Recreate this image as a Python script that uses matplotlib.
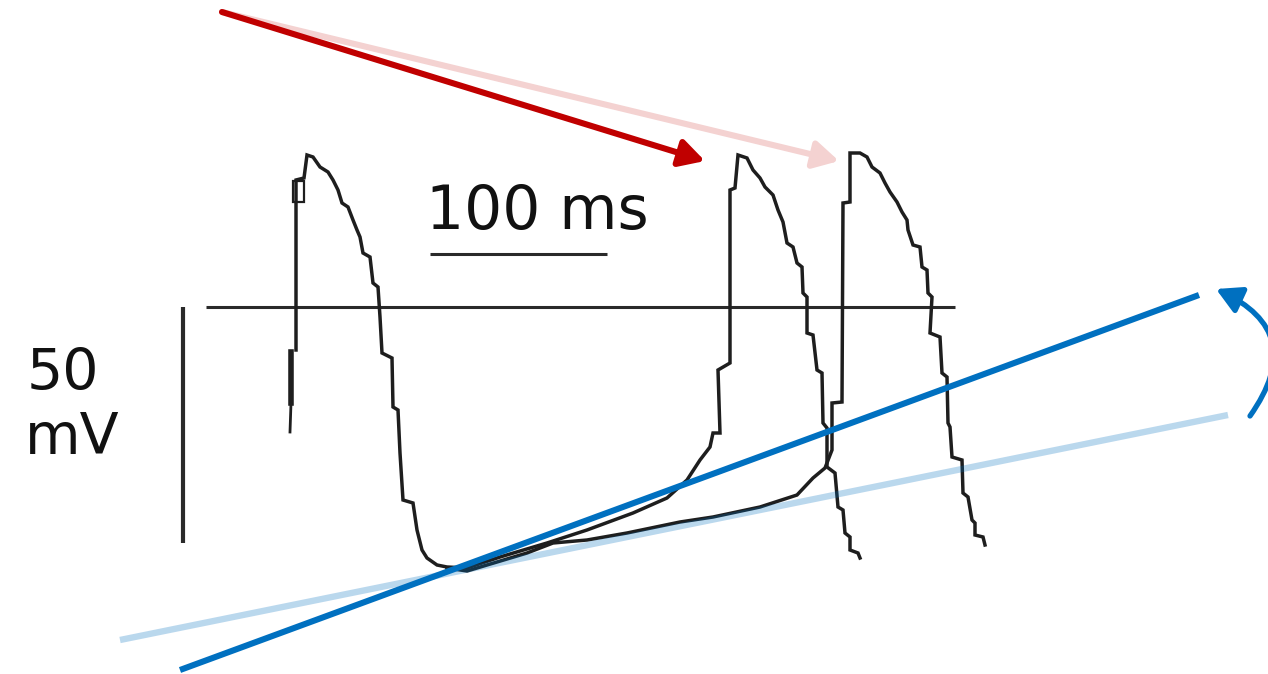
import matplotlib.pyplot as plt
from matplotlib.patches import FancyArrowPatch, Rectangle

# image-pixel coordinates (x right, y down)
# first action potential (upstroke, repolarisation, bottom)
ap1_x = [296, 296, 304, 307, 313, 320, 328, 333, 338, 342, 348, 353, 357, 360, 363, 370,
         373, 378, 380, 382, 392, 393, 398, 400, 403, 413, 417, 422, 427, 437, 447, 467]
ap1_y = [350, 180, 178, 155, 157, 167, 172, 180, 190, 203, 207, 220, 230, 237, 253, 257,
         283, 287, 317, 353, 358, 407, 410, 453, 500, 503, 530, 550, 558, 565, 567, 568]

artifact_x = [290, 291]
artifact_y = [432, 403]

# fast diastolic depolarisation -> second action potential
ap2_x = [467, 500, 547, 587, 633, 667, 687, 700, 710, 713, 720, 718, 730, 730, 735, 738,
         747, 753, 760, 765, 773, 778, 783, 787, 793, 797, 802, 803, 807, 807, 813, 817,
         822, 823, 827, 827, 835, 838, 843, 845, 850, 850, 858, 860]
ap2_y = [568, 557, 543, 530, 513, 498, 480, 460, 447, 433, 433, 370, 363, 190, 188, 155,
         158, 170, 178, 187, 195, 210, 222, 243, 247, 263, 267, 293, 297, 333, 335, 370,
         373, 423, 428, 467, 473, 507, 510, 533, 537, 550, 553, 558]

# slow diastolic depolarisation -> third action potential
ap3_x = [447, 467, 527, 553, 587, 627, 680, 713, 760, 797, 813, 825, 832, 832, 842, 843, 850,
         850, 860, 867, 872, 880, 885, 890, 897, 902, 907, 908, 913, 920, 922, 927, 928,
         932, 930, 940, 942, 947, 948, 950, 952, 962, 963, 968, 972, 975, 975, 983, 985]
ap3_y = [568, 571, 553, 543, 540, 533, 522, 517, 507, 495, 478, 468, 450, 403, 402, 203, 202,
         153, 153, 157, 167, 173, 183, 192, 202, 212, 220, 230, 245, 247, 267, 270, 293,
         297, 333, 337, 373, 377, 423, 427, 457, 460, 493, 497, 520, 523, 535, 537, 545]

zero_x = [206, 955]
zero_y = [307, 307]

vbar_x = [183, 183]
vbar_y = [307, 543]

hbar_x = [430, 607]
hbar_y = [254, 254]

# annotation lines / arrows
red_start, red_end = (222, 12), (705, 161)
pink_start, pink_end = (222, 12), (839, 161)
blue_start, blue_end = (180, 670), (1199, 295)
lblue_start, lblue_end = (120, 640), (1228, 415)
curve_start, curve_end = (1250, 416), (1216, 289)

RED = '#C00000'
PINK = '#F4D2D1'
BLUE = '#0070C0'
INK = '#1e1e1e'

fig = plt.figure(figsize=(12.68, 6.74), dpi=100)
ax = fig.add_axes([0, 0, 1, 1])
ax.set_xlim(0, 1268)
ax.set_ylim(674, 0)
ax.axis('off')

# traces
ax.plot(zero_x, zero_y, color='#2a2a2a', lw=2.2, solid_capstyle='butt')
ax.plot(vbar_x, vbar_y, color='#2a2a2a', lw=3.0, solid_capstyle='butt')
ax.plot(hbar_x, hbar_y, color='#2a2a2a', lw=2.2, solid_capstyle='butt')
ax.plot(artifact_x, artifact_y, color=INK, lw=2.0)
ax.plot([291, 291], [403, 352], color=INK, lw=4.0)
ax.plot(ap1_x, ap1_y, color=INK, lw=2.5, solid_joinstyle='miter')
ax.add_patch(Rectangle((293, 181), 11, 21, fill=False, ec=INK, lw=1.6))
ax.plot(ap2_x, ap2_y, color=INK, lw=2.5, solid_joinstyle='miter')
ax.plot(ap3_x, ap3_y, color=INK, lw=2.5, solid_joinstyle='miter')

# labels
ax.text(537, 213, '100 ms', fontsize=43, ha='center', va='center', color='#111111',
        family='DejaVu Sans')
ax.text(63, 374, '50', fontsize=41, ha='center', va='center', color='#111111',
        family='DejaVu Sans')
ax.text(72, 438, 'mV', fontsize=41, ha='center', va='center', color='#111111',
        family='DejaVu Sans')

# slope lines
ax.plot([lblue_start[0], lblue_end[0]], [lblue_start[1], lblue_end[1]],
        color=BLUE, alpha=0.27, lw=4.6, solid_capstyle='butt')
ax.plot([blue_start[0], blue_end[0]], [blue_start[1], blue_end[1]],
        color=BLUE, lw=4.4, solid_capstyle='butt')

# arrows
head = '-|>,head_length=1.0,head_width=0.55'
ax.add_patch(FancyArrowPatch(pink_start, pink_end, arrowstyle=head, mutation_scale=15,
                             color=PINK, lw=4.4, shrinkA=0, shrinkB=0))
ax.add_patch(FancyArrowPatch(red_start, red_end, arrowstyle=head, mutation_scale=15,
                             color=RED, lw=4.4, shrinkA=0, shrinkB=0))
ax.add_patch(FancyArrowPatch(curve_start, curve_end, arrowstyle=head, mutation_scale=15,
                             connectionstyle='arc3,rad=0.6', color=BLUE, lw=3.8,
                             shrinkA=0, shrinkB=0))

fig.savefig('out.png', dpi=100)
